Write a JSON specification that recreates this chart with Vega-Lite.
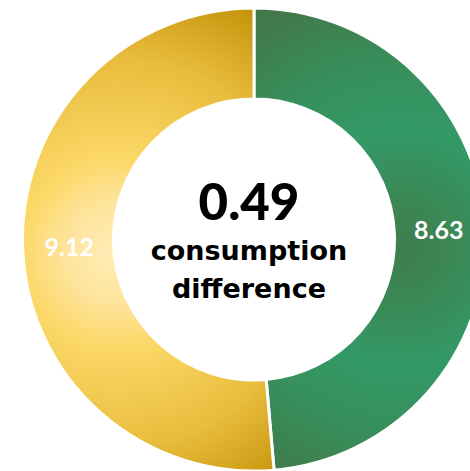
{
  "$schema": "https://vega.github.io/schema/vega-lite/v6.json",
  "width": 508,
  "height": 479,
  "padding": 0,
  "autosize": {"type": "none"},
  "background": "white",
  "view": {"stroke": null},
  "datasets": {
    "shares": [
      {"category": "green", "value": 8.63, "order": 1},
      {"category": "yellow", "value": 9.12, "order": 2}
    ],
    "center": [
      {"difference": 0.49, "caption": "consumption difference"}
    ]
  },
  "layer": [
    {
      "data": {"name": "shares"},
      "mark": {"type": "arc", "outerRadius": 231.5, "innerRadius": 140.5, "stroke": "white", "strokeWidth": 3},
      "encoding": {
        "theta": {"field": "value", "type": "quantitative", "stack": true},
        "order": {"field": "order", "type": "quantitative"},
        "color": {
          "condition": {
            "test": "datum.category === 'green'",
            "value": {
              "gradient": "radial",
              "x1": 0.567, "y1": 0.52, "r1": 0,
              "x2": 0.567, "y2": 0.52, "r2": 0.57,
              "stops": [
                {"offset": 0, "color": "#3E7D4E"},
                {"offset": 0.15, "color": "#3C8552"},
                {"offset": 0.45, "color": "#339966"},
                {"offset": 0.7, "color": "#378F5B"},
                {"offset": 1, "color": "#42784A"}
              ]
            }
          },
          "value": {
            "gradient": "radial",
            "x1": 0.43, "y1": 0.53, "r1": 0,
            "x2": 0.43, "y2": 0.53, "r2": 0.6,
            "stops": [
              {"offset": 0, "color": "#FFEEB8"},
              {"offset": 0.18, "color": "#FEE49C"},
              {"offset": 0.34, "color": "#FCD868"},
              {"offset": 0.7, "color": "#E8BC3C"},
              {"offset": 1, "color": "#C6940C"}
            ]
          }
        }
      }
    },
    {
      "data": {"name": "shares"},
      "mark": {"type": "text", "radius": 185, "font": "Lato", "fontWeight": "bold", "fontSize": 25, "color": "white", "align": "center", "baseline": "middle"},
      "encoding": {
        "theta": {"field": "value", "type": "quantitative", "stack": true},
        "order": {"field": "order", "type": "quantitative"},
        "text": {"field": "value", "type": "quantitative", "format": ".2f"}
      }
    },
    {
      "data": {"name": "center"},
      "mark": {"type": "text", "font": "Lato", "fontWeight": 900, "fontSize": 51, "color": "black", "align": "center", "baseline": "alphabetic", "dx": -5, "dy": -19.5},
      "encoding": {
        "text": {"field": "difference", "type": "quantitative", "format": ".2f"}
      }
    },
    {
      "data": {"name": "center"},
      "mark": {"type": "text", "font": "DejaVu Sans", "fontWeight": "bold", "fontSize": 27, "color": "black", "align": "center", "baseline": "alphabetic", "lineBreak": " ", "lineHeight": 38, "dx": -5, "dy": 20.5},
      "encoding": {
        "text": {"field": "caption", "type": "nominal"}
      }
    }
  ]
}
